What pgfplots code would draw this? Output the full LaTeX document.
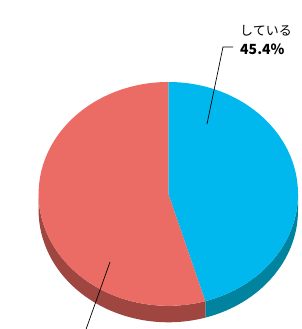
\documentclass[border=0pt]{standalone}
\usepackage{pgfplots}
\pgfplotsset{compat=1.18}
\usepackage{pgfplotstable}
\usepackage{fontspec}
\setmainfont{Noto Sans CJK JP}
\definecolor{pieblue}{HTML}{00B8EE}
\definecolor{piebluedark}{HTML}{00839F}
\definecolor{piered}{HTML}{EB6C64}
\definecolor{pieredkdark}{HTML}{A04641}
\pgfplotstableread{
idx value
0 45.4
1 54.6
}\piedata
\begin{document}
\begin{tikzpicture}
\pgfplotstablegetelem{0}{value}\of\piedata
\let\va\pgfplotsretval
\pgfmathsetmacro\angB{90-3.6*\va}
\def\cx{168.3}
\def\cy{135.1}
\def\rx{129.7}
\def\ry{111.9}
\def\dep{16.5}
\pgfmathsetmacro\cyd{\cy-\dep}
\pgfmathsetmacro\bx{\cx+\rx*cos(\angB)}
\pgfmathsetmacro\by{\cy+\ry*sin(\angB)}
\pgfmathsetmacro\byd{\by-\dep}
\begin{axis}[
  scale only axis, width=302pt, height=329pt,
  xmin=0, xmax=302, ymin=0, ymax=329,
  hide axis, clip=true,
]
% side walls
\fill[piebluedark] (axis cs:\bx,\by) arc[start angle=\angB, end angle=0, x radius=\rx pt, y radius=\ry pt]
  -- ++(0,-\dep pt) arc[start angle=0, end angle=\angB, x radius=\rx pt, y radius=\ry pt] -- cycle;
\fill[pieredkdark] (axis cs:\cx-\rx,\cy) arc[start angle=180, end angle={360+\angB}, x radius=\rx pt, y radius=\ry pt]
  -- ++(0,-\dep pt) arc[start angle={360+\angB}, end angle=180, x radius=\rx pt, y radius=\ry pt] -- cycle;
% top faces
\fill[pieblue] (axis cs:\cx,\cy) -- (axis cs:\cx,\cy+\ry) arc[start angle=90, end angle=\angB, x radius=\rx pt, y radius=\ry pt] -- cycle;
\fill[piered] (axis cs:\cx,\cy) -- (axis cs:\bx,\by) arc[start angle=\angB, end angle=-270, x radius=\rx pt, y radius=\ry pt] -- cycle;
% leader lines
\draw[black, line width=0.7pt] (axis cs:207,205) -- (axis cs:223,282) -- (axis cs:233,282);
\draw[black, line width=0.7pt] (axis cs:110,67) -- (axis cs:84,-6);
% labels
\node[anchor=west, inner sep=0pt, font=\fontsize{13}{15}\selectfont] at (axis cs:240,298) {している};
\node[anchor=west, inner sep=0pt, font=\fontsize{14}{16}\selectfont\bfseries] at (axis cs:240,280) {45.4\%};
\end{axis}
\pgfresetboundingbox
\path[use as bounding box] (current axis.south west) rectangle (current axis.north east);
\end{tikzpicture}
\end{document}
